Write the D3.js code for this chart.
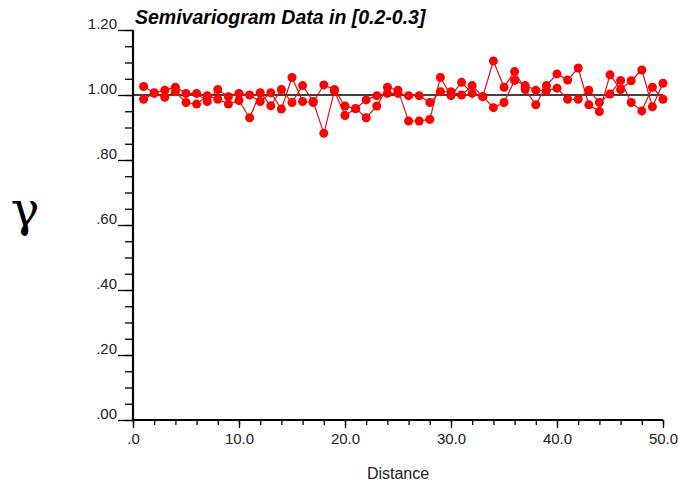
<!DOCTYPE html>
<html>
<head>
<meta charset="utf-8">
<script src="https://d3js.org/d3.v7.min.js"></script>
<style>
  body { margin: 0; background: #fff; }
  text { font-family: "Liberation Sans", Arial, sans-serif; }
</style>
</head>
<body>
<script>
// lag distances and the two semivariogram runs
var lags = d3.range(1, 51);
var seriesA = [1.026, 1.007, 1.015, 1.024, 1.005, 1.005, 0.980, 1.017, 0.995, 1.005,
               1.000, 0.980, 1.007, 0.957, 1.054, 0.980, 0.977, 1.031, 1.017, 0.966,
               0.958, 0.930, 0.966, 1.024, 1.015, 0.920, 0.920, 0.925, 1.054, 0.998,
               1.039, 1.005, 0.995, 1.105, 1.024, 1.072, 1.017, 0.970, 1.029, 1.065,
               1.046, 1.083, 0.970, 0.949, 1.062, 1.017, 1.044, 1.077, 0.964, 1.036];
var seriesB = [0.987, 1.005, 0.993, 1.010, 0.977, 0.972, 0.998, 0.987, 0.972, 0.983,
               0.930, 1.007, 0.967, 1.017, 0.977, 1.029, 0.980, 0.882, 1.012, 0.937,
               0.958, 0.985, 0.998, 1.005, 1.005, 0.998, 0.998, 0.977, 1.010, 1.010,
               1.000, 1.029, 0.995, 0.961, 0.977, 1.045, 1.029, 1.015, 1.013, 1.021,
               0.987, 0.987, 1.015, 0.977, 1.003, 1.045, 0.977, 0.951, 1.024, 0.987];
var xTickLabels = [".0", "10.0", "20.0", "30.0", "40.0", "50.0"];
var yTickLabels = [".00", ".20", ".40", ".60", ".80", "1.00", "1.20"];
var sill = 1.0;

var w = 678, h = 485;
var x = d3.scaleLinear().domain([0, 50]).range([133, 663]);
var y = d3.scaleLinear().domain([0, 1.2]).range([420, 30]);

var svg = d3.select("body").append("svg")
    .attr("width", w)
    .attr("height", h);

// minor ticks
var xMinor = d3.axisBottom(x).tickValues(d3.range(0, 51, 2)).tickSize(5).tickFormat("");
var yMinor = d3.axisLeft(y).tickValues(d3.range(0, 1.201, 0.05)).tickSize(8).tickFormat("");

svg.append("g").attr("transform", "translate(0,420)").call(xMinor);
svg.append("g").attr("transform", "translate(133,0)").call(yMinor);

// major ticks + labels
var xAxis = d3.axisBottom(x).tickValues(d3.range(0, 51, 10)).tickSize(8).tickPadding(5)
    .tickFormat(function(d, i) { return xTickLabels[i]; });
var yAxis = d3.axisLeft(y).tickValues(d3.range(0, 1.201, 0.2)).tickSize(15).tickPadding(1)
    .tickFormat(function(d, i) { return yTickLabels[i]; });

var gx = svg.append("g").attr("transform", "translate(0,420)").call(xAxis);
var gy = svg.append("g").attr("transform", "translate(133,0)").call(yAxis);

svg.selectAll(".domain").remove();
svg.selectAll(".tick line").attr("stroke", "#000").attr("stroke-width", 1.3);

gx.selectAll("text").attr("font-size", 15).attr("fill", "#222");
gy.selectAll("text").attr("font-size", 15).attr("fill", "#222").attr("dy", "-0.12em");

// axis lines
svg.append("line").attr("x1", x(0)).attr("x2", x(0)).attr("y1", y(1.2)).attr("y2", y(0))
    .attr("stroke", "#000").attr("stroke-width", 2.2);
svg.append("line").attr("x1", x(0)).attr("x2", x(50)).attr("y1", y(0)).attr("y2", y(0))
    .attr("stroke", "#000").attr("stroke-width", 2.2);

// sill reference
svg.append("line").attr("x1", x(0)).attr("x2", x(50)).attr("y1", y(sill)).attr("y2", y(sill))
    .attr("stroke", "#000").attr("stroke-width", 1.4);

var line = d3.line()
    .x(function(d, i) { return x(lags[i]); })
    .y(function(d) { return y(d); });

[seriesA, seriesB].forEach(function(s) {
    svg.append("path").datum(s)
        .attr("d", line)
        .attr("fill", "none")
        .attr("stroke", "#e01010")
        .attr("stroke-width", 1.2);
});

[seriesA, seriesB].forEach(function(s) {
    svg.append("g").selectAll("circle")
        .data(s)
        .enter()
        .append("circle")
        .attr("cx", function(d, i) { return x(lags[i]); })
        .attr("cy", function(d) { return y(d); })
        .attr("r", 4.5)
        .attr("fill", "#ff0000");
});

// labels
svg.append("text").attr("x", 135).attr("y", 24)
    .attr("font-size", 19.5).attr("font-weight", "bold").attr("font-style", "italic")
    .text("Semivariogram Data in [0.2-0.3]");

svg.append("text").attr("x", x(25)).attr("y", 479)
    .attr("text-anchor", "middle").attr("font-size", 16).attr("fill", "#222")
    .text("Distance");

svg.append("text").attr("x", 25).attr("y", 226)
    .attr("text-anchor", "middle").attr("font-size", 48)
    .style("font-family", "'DejaVu Serif', serif")
    .text("γ");
</script>
</body>
</html>
